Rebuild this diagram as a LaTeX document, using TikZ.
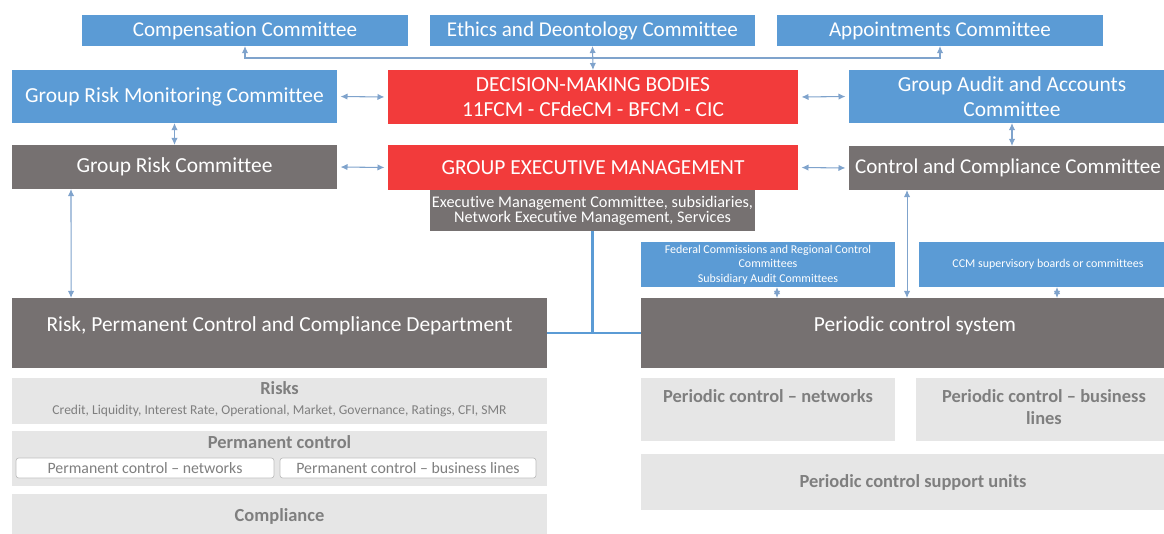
\documentclass[tikz,border=0pt]{standalone}
\usepackage{fontspec}
\setmainfont[Ligatures=NoCommon]{Carlito}
\usetikzlibrary{arrows.meta}

\definecolor{boardblue}{HTML}{5B9BD5}
\definecolor{execred}{HTML}{F23B3B}
\definecolor{deptgrey}{HTML}{767171}
\definecolor{panelgrey}{HTML}{E6E6E6}
\definecolor{labelgrey}{HTML}{7F7F7F}
\definecolor{linkblue}{HTML}{7FA3CC}

\newcommand{\paneltitle}{\fontsize{10.5}{12.5}\selectfont\bfseries}

\tikzset{
  box/.style={rectangle, inner sep=0pt, outer sep=0pt, align=center, text=white},
  bluebox/.style={box, fill=boardblue},
  redbox/.style={box, fill=execred},
  greybox/.style={box, fill=deptgrey},
  panel/.style={box, fill=panelgrey, text=labelgrey},
  subbox/.style={box, fill=white, draw=black!25, rounded corners=1.5pt, text=labelgrey},
  biarrow/.style={draw=linkblue, line width=0.6pt,
    {Latex[length=4pt,width=3.6pt]}-{Latex[length=4pt,width=3.6pt]}},
  feedline/.style={draw=boardblue, line width=1.3pt},
  topfont/.style={font=\fontsize{12}{14}\selectfont},
  midfont/.style={font=\fontsize{12.2}{14}\selectfont},
  smallfont/.style={font=\fontsize{9.25}{8.7}\selectfont},
  tinyfont/.style={font=\fontsize{6.8}{8.2}\selectfont},
  titlefont/.style={font=\paneltitle},
  titletext/.style={titlefont, text=labelgrey, inner sep=0pt, align=center, anchor=north},
}

\begin{document}
\begin{tikzpicture}[x=0.02cm, y=-0.02cm]
  \useasboundingbox (0,0) rectangle (1164,534);

  % committees of the board
  \node[bluebox, topfont, minimum width=6.52cm, minimum height=0.62cm] (comp) at (245,30.5) {Compensation Committee};
  \node[bluebox, topfont, minimum width=6.5cm, minimum height=0.62cm] (ethics) at (592.5,30.5) {Ethics and Deontology Committee};
  \node[bluebox, topfont, minimum width=6.52cm, minimum height=0.62cm] (appoint) at (940,30.5) {Appointments Committee};

  % second row
  \node[bluebox, midfont, minimum width=6.5cm, minimum height=1.06cm] (grmc) at (174.5,96.5) {Group Risk Monitoring Committee};
  \node[redbox, midfont, minimum width=8.2cm, minimum height=1.08cm] (dmb) at (593,97) {DECISION-MAKING BODIES\\11FCM - CFdeCM - BFCM - CIC};
  \node[bluebox, midfont, minimum width=6.52cm, minimum height=1.06cm] (gaac) at (1012,96.5) {Group Audit and Accounts\\Committee};

  % third row
  \node[greybox, midfont, minimum width=6.5cm, minimum height=0.88cm] (grc) at (174.5,167) {Group Risk Committee};
  \node[redbox, midfont, minimum width=8.2cm, minimum height=0.9cm] (gem) at (593,167.5) {GROUP EXECUTIVE MANAGEMENT};
  \node[greybox, smallfont, minimum width=6.5cm, minimum height=0.82cm] (gemsub) at (592.5,210.5) {Executive Management Committee, subsidiaries,\\Network Executive Management, Services};
  \node[greybox, font=\fontsize{12}{14}\selectfont, minimum width=6.36cm, minimum height=0.88cm] (ccc) at (1008,168) {Control and Compliance Committee};

  % supervisory committees
  \node[bluebox, tinyfont, minimum width=5.08cm, minimum height=0.9cm] (fed) at (768,264.5) {Federal Commissions and Regional Control\\Committees\\Subsidiary Audit Committees};
  \node[bluebox, tinyfont, minimum width=5.16cm, minimum height=0.9cm] (ccm) at (1048,264.5) {CCM supervisory boards or committees};

  % the two control departments
  \node[greybox, midfont, text depth=0.36cm, minimum width=10.7cm, minimum height=1.4cm] (dept) at (279.5,333) {Risk, Permanent Control and Compliance Department};
  \node[greybox, midfont, text depth=0.36cm, minimum width=10.96cm, minimum height=1.4cm] (pcs) at (915,333) {Periodic control system};

  % left-hand panels
  \node[panel, minimum width=10.7cm, minimum height=0.92cm] (risks) at (279.5,401) {};
  \node[titletext] (riskstext) at ([yshift=-0.06cm]risks.north)
    {Risks\\[-1pt]{\mdseries\fontsize{7.7}{9}\selectfont Credit, Liquidity, Interest Rate, Operational, Market, Governance, Ratings, CFI, SMR}};
  \node[panel, minimum width=10.7cm, minimum height=1.1cm] (perm) at (279.5,458.5) {};
  \node[titletext] (permtitle) at ([yshift=-0.08cm]perm.north) {Permanent control};
  \node[subbox, font=\fontsize{9}{10}\selectfont, minimum width=5.16cm, minimum height=0.4cm] (pcnet) at (145,468) {Permanent control -- networks};
  \node[subbox, font=\fontsize{9}{10}\selectfont, minimum width=5.12cm, minimum height=0.4cm] (pcbus) at (408,468) {Permanent control -- business lines};
  \node[panel, titlefont, minimum width=10.7cm, minimum height=0.88cm] (compl) at (279.5,516) {Compliance};

  % right-hand panels
  \node[panel, minimum width=5.08cm, minimum height=1.26cm] (pernet) at (768,409.5) {};
  \node[titletext] (pernettext) at ([yshift=-0.22cm]pernet.north) {Periodic control -- networks};
  \node[panel, minimum width=5.12cm, minimum height=1.26cm] (perbus) at (1044,409.5) {};
  \node[titletext] (perbustext) at ([yshift=-0.22cm]perbus.north) {Periodic control -- business\\lines};
  \node[panel, titlefont, minimum width=10.88cm, minimum height=1.12cm] (support) at (913,482) {Periodic control support units};

  % links between bodies
  \draw[biarrow] (comp.south) -- ++(0,12) -| (appoint.south);
  \draw[biarrow] (dmb.north) -- (ethics.south);
  \draw[biarrow, shorten <=2pt, shorten >=2pt] (grmc.east) -- (dmb.west);
  \draw[biarrow, shorten <=2pt, shorten >=2pt] (dmb.east) -- (gaac.west);
  \draw[biarrow, shorten <=2pt, shorten >=2pt] (grc.east) -- (gem.west);
  \draw[biarrow, shorten <=2pt, shorten >=2pt] (gem.east) -- (ccc.west);
  \draw[biarrow] (grmc.south) -- (grc.north);
  \draw[biarrow] (gaac.south) -- (gaac.south |- ccc.north);
  \draw[biarrow] ([xshift=1.18cm]grc.south west) -- ([xshift=1.18cm]dept.north west);
  \draw[biarrow] ([xshift=1.16cm]ccc.south west) -- ([xshift=1.16cm]ccc.south west |- pcs.north);
  \draw[biarrow] ([xshift=0.18cm]fed.south) -- ([xshift=0.18cm]fed.south |- pcs.north);
  \draw[biarrow] ([xshift=0.18cm]ccm.south) -- ([xshift=0.18cm]ccm.south |- pcs.north);

  % executive management feeds both departments
  \draw[feedline] (gemsub.south) -- (gemsub.south |- dept.east);
  \draw[feedline] (dept.east) -- (pcs.west);
\end{tikzpicture}
\end{document}
